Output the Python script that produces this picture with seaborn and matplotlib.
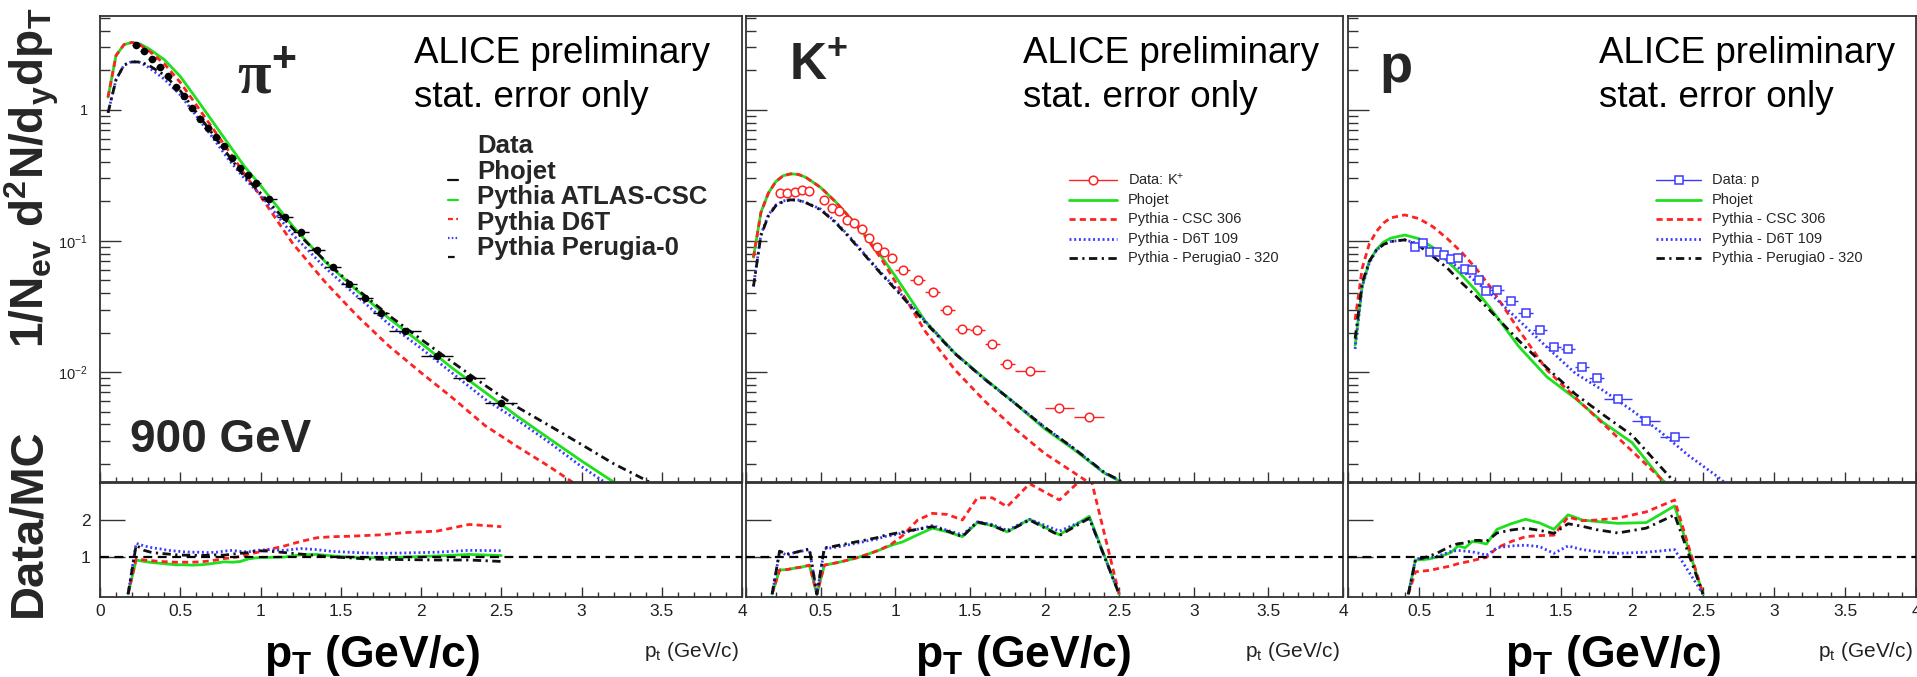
import matplotlib
matplotlib.use("Agg")
import matplotlib.pyplot as plt
import seaborn as sns
from matplotlib.lines import Line2D
from matplotlib.ticker import FixedLocator, MultipleLocator, NullFormatter, FixedFormatter, NullLocator

# ------------------------------------------------------------------ data
# pi+ : measured spectrum
pi_pt = [0.225, 0.275, 0.325, 0.375, 0.425, 0.475, 0.525, 0.575, 0.625, 0.675, 0.725, 0.775,
         0.825, 0.875, 0.925, 0.975, 1.05, 1.15, 1.25, 1.35, 1.45, 1.55, 1.65, 1.75, 1.9, 2.1, 2.3, 2.5]
pi_xerr = [0.025, 0.025, 0.025, 0.025, 0.025, 0.025, 0.025, 0.025, 0.025, 0.025, 0.025, 0.025,
           0.025, 0.025, 0.025, 0.025, 0.05, 0.05, 0.05, 0.05, 0.05, 0.05, 0.05, 0.05, 0.1, 0.1, 0.1, 0.1]
pi_val = [3.13, 2.79, 2.44, 2.14, 1.80, 1.49, 1.28, 1.03, 0.858, 0.725, 0.618, 0.531,
          0.428, 0.363, 0.319, 0.276, 0.209, 0.152, 0.118, 0.0854, 0.0636, 0.0470, 0.0369, 0.0281,
          0.0206, 0.0132, 0.00895, 0.00583]
# pi+ : MC curves
pi_mc_pt = [0.05, 0.1, 0.15, 0.2, 0.25, 0.3, 0.4, 0.5, 0.6, 0.7, 0.8, 0.9, 1.0, 1.2, 1.4, 1.6,
            1.8, 2.0, 2.2, 2.4, 2.6, 2.8, 3.0, 3.2, 3.4, 3.6]
pi_green = [1.25, 2.6, 3.15, 3.27, 3.18, 2.95, 2.42, 1.80, 1.22, 0.82, 0.55, 0.37, 0.265, 0.13,
            0.070, 0.042, 0.0257, 0.0166, 0.0106, 0.0070, 0.0046, 0.0031, 0.0021, 0.00145, 0.001, 0.0007]
pi_red = [1.25, 2.6, 3.15, 3.27, 3.12, 2.85, 2.25, 1.62, 1.09, 0.73, 0.49, 0.325, 0.22, 0.096,
          0.049, 0.027, 0.0158, 0.0099, 0.0063, 0.0039, 0.0027, 0.0019, 0.0013, 0.0009, 0.0006, 0.0004]
pi_blue = [0.95, 1.7, 2.2, 2.34, 2.3, 2.12, 1.72, 1.30, 0.90, 0.62, 0.42, 0.30, 0.225, 0.112,
           0.063, 0.038, 0.0232, 0.0152, 0.0097, 0.0062, 0.0043, 0.0029, 0.0019, 0.0013, 0.0009, 0.0006]
pi_black = [0.95, 1.7, 2.2, 2.32, 2.32, 2.2, 1.85, 1.40, 0.96, 0.66, 0.45, 0.31, 0.232, 0.125,
            0.071, 0.043, 0.027, 0.0178, 0.0118, 0.0079, 0.0054, 0.0039, 0.0028, 0.0020, 0.0015, 0.0011]
# pi+ : Data/MC
pi_r_pt = [0.175, 0.225, 0.275, 0.325, 0.375, 0.425, 0.475, 0.525, 0.575, 0.625, 0.675, 0.725,
           0.775, 0.825, 0.875, 0.925, 0.975, 1.05, 1.15, 1.25, 1.35, 1.45, 1.55, 1.65, 1.75,
           1.9, 2.1, 2.3, 2.5]
pi_r_green = [0, 0.92, 0.88, 0.85, 0.83, 0.81, 0.79, 0.79, 0.78, 0.79, 0.81, 0.84, 0.87, 0.86, 0.88,
              0.95, 0.98, 0.99, 1.0, 1.06, 1.07, 1.03, 1.0, 0.99, 0.98, 1.0, 1.03, 1.07, 1.04]
pi_r_red = [0, 0.95, 0.92, 0.90, 0.88, 0.87, 0.86, 0.86, 0.86, 0.87, 0.89, 0.92, 0.96, 0.98, 1.02,
            1.08, 1.12, 1.2, 1.3, 1.42, 1.52, 1.55, 1.56, 1.58, 1.6, 1.66, 1.7, 1.88, 1.82]
pi_r_blue = [0, 1.37, 1.30, 1.25, 1.22, 1.18, 1.16, 1.14, 1.13, 1.13, 1.12, 1.13, 1.16, 1.18, 1.15,
             1.14, 1.18, 1.2, 1.18, 1.23, 1.2, 1.15, 1.13, 1.11, 1.1, 1.11, 1.13, 1.18, 1.17]
pi_r_black = [0, 1.32, 1.18, 1.12, 1.10, 1.08, 1.06, 1.05, 1.05, 1.04, 1.05, 1.06, 1.05, 1.08, 1.10,
              1.12, 1.17, 1.16, 1.12, 1.08, 1.04, 1.0, 0.98, 0.95, 0.94, 0.93, 0.92, 0.92, 0.88]

# K+ : measured spectrum
k_pt = [0.225, 0.275, 0.325, 0.375, 0.425, 0.525, 0.575, 0.625, 0.675, 0.725, 0.775, 0.825, 0.875,
        0.925, 0.975, 1.05, 1.15, 1.25, 1.35, 1.45, 1.55, 1.65, 1.75, 1.9, 2.1, 2.3]
k_xerr = [0.025, 0.025, 0.025, 0.025, 0.025, 0.025, 0.025, 0.025, 0.025, 0.025, 0.025, 0.025, 0.025,
          0.025, 0.025, 0.05, 0.05, 0.05, 0.05, 0.05, 0.05, 0.05, 0.05, 0.1, 0.1, 0.1]
k_val = [0.231, 0.231, 0.238, 0.245, 0.241, 0.206, 0.178, 0.168, 0.145, 0.138, 0.123, 0.105, 0.0905,
         0.083, 0.0746, 0.0601, 0.0504, 0.0405, 0.0297, 0.0212, 0.0209, 0.0163, 0.01145, 0.0102,
         0.00534, 0.00451]
# K+ : MC curves
k_mc_pt = [0.05, 0.1, 0.15, 0.2, 0.25, 0.3, 0.35, 0.4, 0.5, 0.6, 0.7, 0.8, 0.9, 1.0, 1.2, 1.4, 1.6,
           1.8, 2.0, 2.2, 2.4, 2.5, 2.6]
k_green = [0.075, 0.165, 0.232, 0.284, 0.315, 0.325, 0.322, 0.306, 0.256, 0.199, 0.149, 0.11, 0.078,
           0.054, 0.0245, 0.0139, 0.0089, 0.0058, 0.0037, 0.00255, 0.0017, 0.00148, 0.0012]
k_red = [0.075, 0.165, 0.232, 0.284, 0.315, 0.325, 0.322, 0.306, 0.256, 0.199, 0.149, 0.108, 0.075,
         0.049, 0.0205, 0.0104, 0.0060, 0.0037, 0.0024, 0.0017, 0.0012, 0.001, 0.0008]
k_blue = [0.045, 0.112, 0.158, 0.188, 0.202, 0.207, 0.205, 0.197, 0.175, 0.14, 0.106, 0.078, 0.058,
          0.044, 0.0245, 0.0139, 0.0088, 0.0058, 0.0038, 0.0026, 0.0017, 0.0015, 0.0012]
k_black = [0.045, 0.11, 0.155, 0.186, 0.200, 0.206, 0.204, 0.196, 0.173, 0.138, 0.104, 0.077, 0.057,
           0.043, 0.024, 0.0138, 0.0088, 0.0058, 0.0038, 0.0026, 0.00172, 0.0015, 0.0012]
# K+ : Data/MC
k_r_pt = [0.175, 0.225, 0.275, 0.325, 0.375, 0.425, 0.475, 0.525, 0.575, 0.625, 0.675, 0.725, 0.775,
          0.825, 0.875, 0.925, 0.975, 1.05, 1.15, 1.25, 1.35, 1.45, 1.55, 1.65, 1.75, 1.9, 2.1, 2.3, 2.5]
k_r_green = [0, 0.65, 0.66, 0.70, 0.73, 0.78, 0, 0.78, 0.82, 0.86, 0.91, 0.96, 1.02, 1.09, 1.16, 1.24,
             1.32, 1.41, 1.6, 1.78, 1.68, 1.55, 1.93, 1.85, 1.68, 2.02, 1.6, 2.1, 0]
k_r_red = [0, 0.65, 0.66, 0.70, 0.73, 0.78, 0, 0.78, 0.82, 0.86, 0.91, 0.96, 1.02, 1.09, 1.16, 1.25,
           1.35, 1.58, 2.0, 2.18, 2.15, 2.0, 2.6, 2.6, 2.36, 2.98, 2.54, 3.3, 0]
k_r_blue = [0, 1.14, 1.05, 1.12, 1.16, 1.2, 0, 1.22, 1.25, 1.28, 1.32, 1.36, 1.40, 1.45, 1.48, 1.55,
            1.58, 1.65, 1.75, 1.85, 1.72, 1.6, 1.95, 1.88, 1.72, 2.02, 1.7, 2.05, 0]
k_r_black = [0, 1.16, 1.08, 1.12, 1.17, 1.22, 0, 1.25, 1.28, 1.32, 1.36, 1.4, 1.44, 1.48, 1.52, 1.58,
             1.62, 1.68, 1.75, 1.82, 1.7, 1.55, 1.95, 1.85, 1.68, 2.0, 1.58, 2.05, 0]

# p : measured spectrum
p_pt = [0.475, 0.525, 0.575, 0.625, 0.675, 0.725, 0.775, 0.825, 0.875, 0.925, 0.975, 1.05, 1.15,
        1.25, 1.35, 1.45, 1.55, 1.65, 1.75, 1.9, 2.1, 2.3]
p_xerr = [0.025, 0.025, 0.025, 0.025, 0.025, 0.025, 0.025, 0.025, 0.025, 0.025, 0.025, 0.05, 0.05,
          0.05, 0.05, 0.05, 0.05, 0.05, 0.05, 0.1, 0.1, 0.1]
p_val = [0.0905, 0.096, 0.082, 0.082, 0.078, 0.0724, 0.0738, 0.0608, 0.0601, 0.0504, 0.0418, 0.0423,
         0.0348, 0.0281, 0.0209, 0.0154, 0.0149, 0.0110, 0.00895, 0.00622, 0.00425, 0.00321]
# p : MC curves
p_mc_pt = [0.05, 0.1, 0.15, 0.2, 0.25, 0.3, 0.4, 0.5, 0.6, 0.7, 0.8, 0.9, 1.0, 1.2, 1.4, 1.6, 1.8,
           2.0, 2.2, 2.4, 2.6, 2.7]
p_green = [0.016, 0.045, 0.07, 0.086, 0.098, 0.105, 0.111, 0.104, 0.089, 0.07, 0.055, 0.042, 0.031,
           0.0158, 0.0092, 0.0063, 0.0041, 0.0029, 0.00155, 0.001, 0.0007, 0.0006]
p_red = [0.025, 0.062, 0.095, 0.118, 0.137, 0.15, 0.158, 0.148, 0.128, 0.104, 0.082, 0.062, 0.045,
         0.0212, 0.0104, 0.0064, 0.0040, 0.0025, 0.00155, 0.001, 0.0007, 0.0006]
p_blue = [0.015, 0.045, 0.068, 0.085, 0.094, 0.099, 0.102, 0.095, 0.084, 0.072, 0.06, 0.049, 0.040,
          0.025, 0.0155, 0.0098, 0.0072, 0.0051, 0.0035, 0.0023, 0.0016, 0.0013]
p_black = [0.018, 0.048, 0.07, 0.085, 0.094, 0.099, 0.102, 0.092, 0.076, 0.062, 0.048, 0.038, 0.0295,
           0.0175, 0.0108, 0.0068, 0.0047, 0.0033, 0.0019, 0.0011, 0.0008, 0.0006]
# p : Data/MC
p_r_pt = [0.425, 0.475, 0.525, 0.575, 0.625, 0.675, 0.725, 0.775, 0.825, 0.875, 0.925, 0.975, 1.05,
          1.15, 1.25, 1.35, 1.45, 1.55, 1.65, 1.75, 1.9, 2.1, 2.3, 2.5]
p_r_green = [0, 0.92, 0.93, 0.95, 1.0, 1.05, 1.12, 1.3, 1.25, 1.42, 1.4, 1.35, 1.75, 1.9, 2.02, 1.92,
             1.75, 2.14, 2.0, 1.96, 1.91, 1.93, 2.38, 0]
p_r_red = [0, 0.6, 0.62, 0.64, 0.68, 0.72, 0.76, 0.82, 0.86, 0.9, 0.95, 0.99, 1.25, 1.42, 1.55, 1.58,
           1.59, 2.08, 1.98, 2.0, 2.05, 2.22, 2.54, 0]
p_r_blue = [0, 0.95, 0.97, 0.98, 1.02, 1.08, 1.15, 1.18, 1.16, 1.14, 1.1, 1.05, 1.25, 1.3, 1.32, 1.28,
            1.1, 1.3, 1.2, 1.15, 1.1, 1.13, 1.2, 0]
p_r_black = [0, 0.92, 0.97, 1.03, 1.1, 1.2, 1.3, 1.36, 1.38, 1.45, 1.45, 1.42, 1.65, 1.73, 1.78, 1.72,
             1.64, 1.9, 1.83, 1.74, 1.65, 1.78, 2.14, 0]

# text
x_tick_values = [0, 0.5, 1, 1.5, 2, 2.5, 3, 3.5, 4]
x_tick_labels = ["0", "0.5", "1", "1.5", "2", "2.5", "3", "3.5", "4"]
y_tick_values = [0.01, 0.1, 1]
y_tick_labels = ["10$^{-2}$", "10$^{-1}$", "1"]
r_tick_values = [1, 2]
r_tick_labels = ["1", "2"]
species_labels = ["\u03c0$^{\\mathbf{+}}$", "K$^{\\mathbf{+}}$", "p"]
pi_legend_labels = ["Data", "Phojet", "Pythia ATLAS-CSC", "Pythia D6T", "Pythia Perugia-0"]
mc_legend_labels = ["Phojet", "Pythia - CSC 306", "Pythia - D6T 109", "Pythia - Perugia0 - 320"]
data_legend_labels = [None, "Data: K$^{+}$", "Data: p"]

# ------------------------------------------------------------------ style
sns.set_theme(style="white")
plt.rcParams["font.family"] = ["Liberation Sans", "DejaVu Sans"]
plt.rcParams["mathtext.fontset"] = "custom"
plt.rcParams["mathtext.rm"] = "Liberation Sans"
plt.rcParams["mathtext.it"] = "Liberation Sans:italic"
plt.rcParams["mathtext.bf"] = "Liberation Sans:bold"
plt.rcParams["axes.linewidth"] = 1.3
plt.rcParams["axes.edgecolor"] = "#333333"

GREEN, RED, BLUE, BLACK = "#1ee01e", "#ff2222", "#3a3aff", "#111111"
STY = {
    "green": dict(color=GREEN, linestyle="-"),
    "red": dict(color=RED, linestyle=(0, (2.2, 1.5))),
    "blue": dict(color=BLUE, linestyle=(0, (0.7, 1.0))),
    "black": dict(color=BLACK, linestyle=(0, (3.0, 1.6, 0.8, 1.6))),
}
ORDER = ["green", "red", "blue", "black"]

W, H = 1917, 677
fig = plt.figure(figsize=(W / 100, H / 100), dpi=100)


def fx(p):
    return p / W


def fy(p):
    return 1 - p / H


PANEL_X = [(100, 742), (746, 1343), (1348, 1916)]
TOP = (16, 482)
BOT = (483, 597)

panels = [
    dict(mc_pt=pi_mc_pt, mc=dict(green=pi_green, red=pi_red, blue=pi_blue, black=pi_black),
         r_pt=pi_r_pt, r=dict(green=pi_r_green, red=pi_r_red, blue=pi_r_blue, black=pi_r_black),
         d_pt=pi_pt, d_val=pi_val, d_xerr=pi_xerr),
    dict(mc_pt=k_mc_pt, mc=dict(green=k_green, red=k_red, blue=k_blue, black=k_black),
         r_pt=k_r_pt, r=dict(green=k_r_green, red=k_r_red, blue=k_r_blue, black=k_r_black),
         d_pt=k_pt, d_val=k_val, d_xerr=k_xerr),
    dict(mc_pt=p_mc_pt, mc=dict(green=p_green, red=p_red, blue=p_blue, black=p_black),
         r_pt=p_r_pt, r=dict(green=p_r_green, red=p_r_red, blue=p_r_blue, black=p_r_black),
         d_pt=p_pt, d_val=p_val, d_xerr=p_xerr),
]

TICKC = "#333333"
LABC = "#222222"

for i, ((x0, x1), P) in enumerate(zip(PANEL_X, panels)):
    axt = fig.add_axes([fx(x0), fy(TOP[1]), (x1 - x0) / W, (TOP[1] - TOP[0]) / H])
    axb = fig.add_axes([fx(x0), fy(BOT[1]), (x1 - x0) / W, (BOT[1] - BOT[0]) / H])

    # ---- spectra
    for key in ORDER:
        sns.lineplot(x=P["mc_pt"], y=P["mc"][key], ax=axt, lw=2.0, sort=False, **STY[key])
    if i == 0:
        axt.errorbar(P["d_pt"], P["d_val"], xerr=P["d_xerr"], fmt="none", ecolor="black",
                     elinewidth=1.0, zorder=5)
        sns.scatterplot(x=P["d_pt"], y=P["d_val"], ax=axt, color="black", s=30,
                        edgecolor="black", linewidth=0, zorder=6)
    elif i == 1:
        axt.errorbar(P["d_pt"], P["d_val"], xerr=P["d_xerr"], fmt="o", ms=6.2, mfc="white",
                     mec=RED, mew=1.1, ecolor=RED, elinewidth=1.0, zorder=6)
    else:
        axt.errorbar(P["d_pt"], P["d_val"], xerr=P["d_xerr"], fmt="s", ms=6.0, mfc="white",
                     mec=BLUE, mew=1.1, ecolor=BLUE, elinewidth=1.0, zorder=6)

    axt.set_yscale("log")
    axt.set_xlim(0, 4)
    axt.set_ylim(1.45e-3, 5.2)
    axt.set_xlabel("")
    axt.set_ylabel("")
    axt.yaxis.set_major_locator(FixedLocator(y_tick_values))
    axt.yaxis.set_minor_locator(FixedLocator(
        [m * d for d in (0.001, 0.01, 0.1, 1) for m in range(2, 10)]))
    axt.yaxis.set_minor_formatter(NullFormatter())
    if i == 0:
        axt.yaxis.set_major_formatter(FixedFormatter(y_tick_labels))
    else:
        axt.yaxis.set_major_formatter(NullFormatter())
    axt.xaxis.set_major_locator(MultipleLocator(0.5))
    axt.xaxis.set_minor_locator(MultipleLocator(0.1))
    axt.xaxis.set_major_formatter(NullFormatter())
    axt.tick_params(axis="y", which="major", direction="in", length=15, width=1.0,
                    color=TICKC, labelsize=10.5, labelcolor=LABC, pad=9, left=True)
    axt.tick_params(axis="y", which="minor", direction="in", length=7, width=1.0,
                    color=TICKC, left=True)
    axt.tick_params(axis="x", which="major", direction="in", length=7, width=1.0,
                    color=TICKC, bottom=True, top=False)
    axt.tick_params(axis="x", which="minor", direction="in", length=3.6, width=1.0,
                    color=TICKC, bottom=True, top=False)

    # ---- ratios
    for key in ORDER:
        sns.lineplot(x=P["r_pt"], y=P["r"][key], ax=axb, lw=2.0, sort=False, **STY[key])
    axb.axhline(1.0, color="black", lw=1.6, linestyle=(0, (4, 2.5)), zorder=7)
    axb.set_xlim(0, 4)
    axb.set_ylim(-0.08, 3.0)
    axb.set_xlabel("")
    axb.set_ylabel("")
    axb.yaxis.set_major_locator(FixedLocator(r_tick_values))
    axb.yaxis.set_minor_locator(NullLocator())
    if i == 0:
        axb.yaxis.set_major_formatter(FixedFormatter(r_tick_labels))
    else:
        axb.yaxis.set_major_formatter(NullFormatter())
    axb.xaxis.set_major_locator(FixedLocator(x_tick_values))
    axb.xaxis.set_minor_locator(MultipleLocator(0.1))
    labels = list(x_tick_labels)
    if i > 0:
        labels[0] = ""
    axb.xaxis.set_major_formatter(FixedFormatter(labels))
    axb.tick_params(axis="y", which="major", direction="in", length=18, width=1.0,
                    color=TICKC, labelsize=12.5, labelcolor=LABC, pad=7, left=True)
    axb.tick_params(axis="x", which="major", direction="in", length=7, width=1.0,
                    color=TICKC, labelsize=12.5, labelcolor=LABC, pad=5, bottom=True, top=False)
    axb.tick_params(axis="x", which="minor", direction="in", length=3.6, width=1.0,
                    color=TICKC, bottom=True, top=False)
    for ax in (axt, axb):
        for s in ax.spines.values():
            s.set_color("#333333")
            s.set_linewidth(1.3)

    # ---- texts in each panel
    alice_x = [414, 1023, 1599][i]
    fig.text(fx(alice_x), fy(63), "ALICE preliminary", fontsize=26.5, va="baseline", color="black")
    fig.text(fx(alice_x), fy(107), "stat. error only", fontsize=26.5, va="baseline", color="black")
    xl_c = [372, 1023, 1613][i]
    fig.text(fx(xl_c), fy(667), r"$\mathbf{p_{T}}$ (GeV/c)", fontsize=32, fontweight="bold",
             ha="center", va="baseline", color="black")
    fig.text(fx(x1 - 3), fy(657), r"p$_{\mathrm{t}}$ (GeV/c)", fontsize=15, ha="right",
             va="baseline", color="#222222")

# species labels
fig.text(fx(237), fy(93), species_labels[0], fontsize=44, fontweight="bold",
         family=["Liberation Serif", "DejaVu Serif"], va="baseline")
fig.text(fx(789), fy(80), species_labels[1], fontsize=37, fontweight="bold", va="baseline")
fig.text(fx(1379), fy(82), species_labels[2], fontsize=39, fontweight="bold", va="baseline")
fig.text(fx(130), fy(452), "900 GeV", fontsize=33, fontweight="bold", va="baseline")

# axis titles
fig.text(fx(32), fy(178), r"$\mathbf{1/N_{ev}\ d^{2}N/d_{y}dp_{T}}$", fontsize=33,
         rotation=90, ha="center", va="center")
fig.text(fx(28), fy(523), "Data/MC", fontsize=34, fontweight="bold", rotation=90,
         ha="center", va="center")

# legend of the pi+ panel (bold, symbols offset as in the original)
for j, lab in enumerate(pi_legend_labels):
    fig.text(fx(477), fy(153 + 25.5 * j), lab, fontsize=18.5, fontweight="bold", va="baseline")
leg_sym_y = [180, 200, 219, 238, 257]
leg_sym_sty = [dict(color=BLACK, linestyle="-"), STY["green"], STY["red"], STY["blue"], STY["black"]]
for yy, st in zip(leg_sym_y, leg_sym_sty):
    fig.add_artist(Line2D([fx(448), fx(458)], [fy(yy), fy(yy)], lw=1.6, **st))

# legends of the K+ and p panels
rows = [180, 199.5, 219, 238.5, 258]
for i, (lx0, lx1, tx, mk, mc) in enumerate([(1069, 1117, 1128, "o", RED), (1656, 1701, 1712, "s", BLUE)]):
    fig.add_artist(Line2D([fx(lx0), fx(lx1)], [fy(rows[0]), fy(rows[0])], lw=1.0, color=mc))
    fig.add_artist(Line2D([fx((lx0 + lx1) / 2)], [fy(rows[0])], marker=mk, ms=6.2, mfc="white",
                          mec=mc, mew=1.1, lw=0))
    fig.text(fx(tx), fy(rows[0]), data_legend_labels[i + 1], fontsize=10.5, va="center")
    for j, key in enumerate(ORDER):
        fig.add_artist(Line2D([fx(lx0), fx(lx1)], [fy(rows[j + 1]), fy(rows[j + 1])], lw=2.0,
                              **STY[key]))
        fig.text(fx(tx), fy(rows[j + 1]), mc_legend_labels[j], fontsize=10.5, va="center")

fig.savefig("out.png", dpi=100)
